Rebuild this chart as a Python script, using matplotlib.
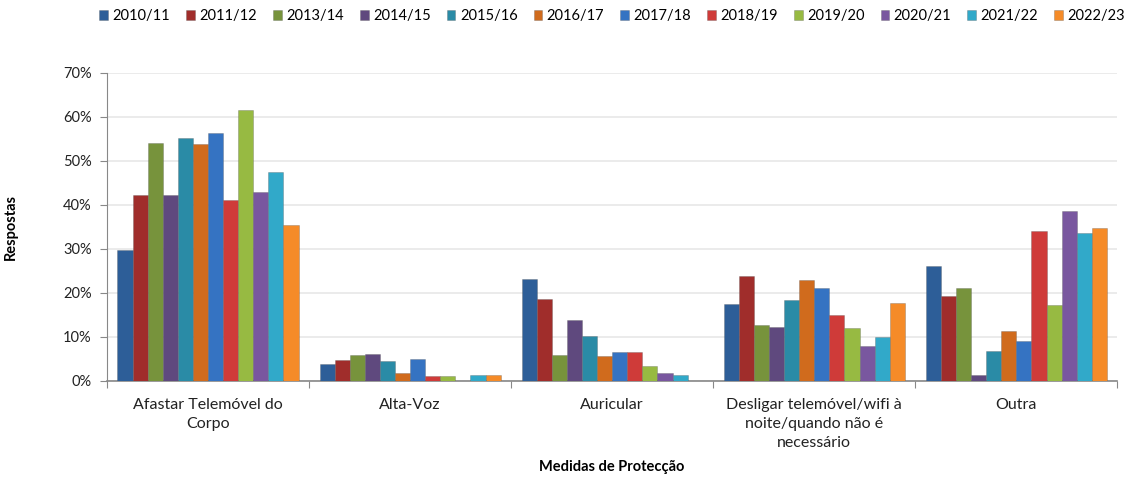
import matplotlib.pyplot as plt
import numpy as np

plt.rcParams['font.family'] = ['Lato', 'DejaVu Sans']

# Categories and series
categories = ['Afastar Telemóvel do\nCorpo', 'Alta-Voz', 'Auricular',
              'Desligar telemóvel/wifi à\nnoite/quando não é\nnecessário', 'Outra']
years = ['2010/11', '2011/12', '2013/14', '2014/15', '2015/16', '2016/17',
         '2017/18', '2018/19', '2019/20', '2020/21', '2021/22', '2022/23']

# Percent of answers per year (one list per category order above)
v_2010_11 = [29.8, 3.8, 23.1, 17.4, 26.1]
v_2011_12 = [42.3, 4.8, 18.7, 23.8, 19.3]
v_2013_14 = [54.0, 5.8, 5.8, 12.8, 21.1]
v_2014_15 = [42.3, 6.1, 13.8, 12.3, 1.3]
v_2015_16 = [55.2, 4.5, 10.2, 18.3, 6.8]
v_2016_17 = [53.8, 1.9, 5.6, 23.0, 11.4]
v_2017_18 = [56.4, 5.1, 6.6, 21.1, 9.2]
v_2018_19 = [41.1, 1.2, 6.6, 14.9, 34.1]
v_2019_20 = [61.6, 1.2, 3.4, 12.1, 17.2]
v_2020_21 = [43.0, 0.0, 1.8, 8.0, 38.6]
v_2021_22 = [47.4, 1.4, 1.4, 10.0, 33.6]
v_2022_23 = [35.4, 1.3, 0.0, 17.7, 34.7]

series = [v_2010_11, v_2011_12, v_2013_14, v_2014_15, v_2015_16, v_2016_17,
          v_2017_18, v_2018_19, v_2019_20, v_2020_21, v_2021_22, v_2022_23]

colors = ['#2D5E98', '#A02D2B', '#77933C', '#5F497E', '#2A8BA6', '#D06B1D',
          '#3573C2', '#CF3B39', '#97BA42', '#79579F', '#31A9C9', '#F58B28']

fig = plt.figure(figsize=(11.33, 4.79), dpi=100)
ax = fig.add_axes([0.0944, 0.2046, 0.8918, 0.643])

x = np.arange(len(categories))
n = len(series)
w = 0.896 / n
for i, (vals, c) in enumerate(zip(series, colors)):
    pos = x - 0.448 + w * (i + 0.5)
    ax.bar(pos, np.array(vals) / 100, width=w, color=c, edgecolor='#55555555',
           linewidth=0.6, label=years[i], zorder=3)

ax.set_xlim(-0.5, len(categories) - 0.5)
ax.set_ylim(0, 0.70)
ax.set_yticks(np.arange(0, 0.71, 0.1))
ax.set_yticklabels([f'{int(round(t * 100))}%' for t in np.arange(0, 0.71, 0.1)], fontsize=10.5)
ax.grid(axis='y', color='#e8e8e8', linewidth=1.2, zorder=0)

# category boundaries as ticks, labels at centers
ax.set_xticks(np.arange(-0.5, len(categories), 1.0))
ax.set_xticklabels([])
ax.set_xticks(x, minor=True)
ax.set_xticklabels(categories, minor=True, fontsize=11.5, color='#222222',
                   linespacing=1.45)
ax.tick_params(axis='x', which='minor', length=0, pad=12)
ax.tick_params(axis='x', which='major', length=5, color='#888888')
ax.tick_params(axis='y', length=5, color='#888888', colors='#222222', pad=6)

for s in ['top', 'right']:
    ax.spines[s].set_visible(False)
ax.spines['left'].set_color('#888888')
ax.spines['bottom'].set_color('#888888')
ax.spines['bottom'].set_linewidth(1.2)

ax.set_ylabel('Respostas', fontsize=10.5, fontweight='bold')
ax.yaxis.set_label_coords(-0.088, 0.5)
ax.set_xlabel('Medidas de Protecção', fontsize=10.5, fontweight='bold', va='center')
ax.xaxis.set_label_coords(0.5, -0.279)

ax.legend(loc='center', bbox_to_anchor=(0.5, 1.185), ncol=12, frameon=False,
          fontsize=10.5, handlelength=0.6, handleheight=0.6, handletextpad=0.3,
          columnspacing=1.1)

fig.savefig('out.png', dpi=100)
